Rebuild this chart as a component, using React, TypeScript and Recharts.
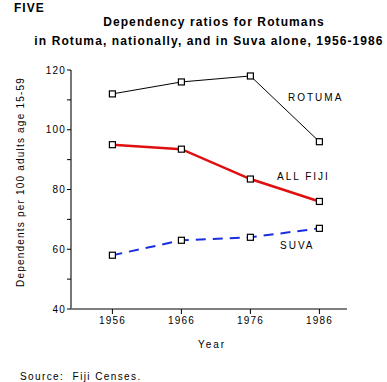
import React from "react";
import { LineChart, Line, XAxis, YAxis, Customized } from "recharts";

const years = [1956, 1966, 1976, 1986];
const rotuma = [112, 116, 118, 96];
const allFiji = [95, 93.5, 83.5, 76];
const suva = [58, 63, 64, 67];
const yTicks = [40, 50, 60, 70, 80, 90, 100, 110, 120];

const data = years.map((year, i) => ({
  year,
  rotuma: rotuma[i],
  allFiji: allFiji[i],
  suva: suva[i],
}));

const font = "'Liberation Sans', Arial, Helvetica, sans-serif";

const SquareDot = (props: any) => {
  const { cx, cy } = props;
  if (cx == null || cy == null) return null;
  return <rect x={cx - 3} y={cy - 3} width={6} height={6} fill="#fff" stroke="#000" strokeWidth={1.2} />;
};

const Texts = () => (
  <g fontFamily={font} fill="#000">
    <text x={14} y={12} fontSize={12} fontWeight="bold" letterSpacing={1}>FIVE</text>
    <text x={214} y={26} fontSize={12} fontWeight="bold" letterSpacing={1.1} textAnchor="middle">
      Dependency ratios for Rotumans
    </text>
    <text x={209} y={45} fontSize={12} fontWeight="bold" letterSpacing={1.1} textAnchor="middle">
      in Rotuma, nationally, and in Suva alone, 1956-1986
    </text>
    <text x={288} y={101} fontSize={10} letterSpacing={2}>ROTUMA</text>
    <text x={277} y={180} fontSize={10} letterSpacing={2}>ALL FIJI</text>
    <text x={280} y={249} fontSize={10} letterSpacing={2}>SUVA</text>
    <text
      x={24}
      y={182}
      fontSize={10}
      letterSpacing={1.2}
      textAnchor="middle"
      transform="rotate(-90 24 182)"
    >
      Dependents per 100 adults age 15-59
    </text>
    <text x={212} y={348} fontSize={10} letterSpacing={2} textAnchor="middle">Year</text>
    <text x={20} y={380} fontSize={10} letterSpacing={1.4}>{"Source:\u00a0\u00a0Fiji Censes."}</text>
  </g>
);

export default function App() {
  return (
    <div style={{ position: "fixed", left: 0, top: 0, width: 387, height: 382, background: "#fff" }}>
      <LineChart width={387} height={382} data={data} margin={{ top: 70, right: 40, bottom: 53, left: 0 }}>
        <XAxis
          dataKey="year"
          type="number"
          domain={[1950, 1990]}
          ticks={years}
          stroke="#000"
          tickSize={5}
          tickMargin={3}
          tick={{ fontSize: 10, fill: "#000", fontFamily: font, letterSpacing: 1.2 }}
          height={20}
        />
        <YAxis
          type="number"
          domain={[40, 120]}
          ticks={yTicks}
          interval={0}
          width={71}
          stroke="#777"
          strokeWidth={2}
          tickSize={4}
          tickMargin={1}
          tickLine={{ stroke: "#000", strokeWidth: 1 }}
          tickFormatter={(v: number) => (v % 20 === 0 ? String(v) : "")}
          tick={{ fontSize: 10, fill: "#000", fontFamily: font, letterSpacing: 1.2 }}
        />
        <Line
          dataKey="rotuma"
          stroke="#000"
          strokeWidth={1}
          dot={<SquareDot />}
          isAnimationActive={false}
        />
        <Line
          dataKey="allFiji"
          stroke="#e01010"
          strokeWidth={2.5}
          dot={<SquareDot />}
          isAnimationActive={false}
        />
        <Line
          dataKey="suva"
          stroke="#1a2ee0"
          strokeWidth={2}
          strokeDasharray="10 7"
          dot={<SquareDot />}
          isAnimationActive={false}
        />
        <Customized component={Texts} />
      </LineChart>
    </div>
  );
}
